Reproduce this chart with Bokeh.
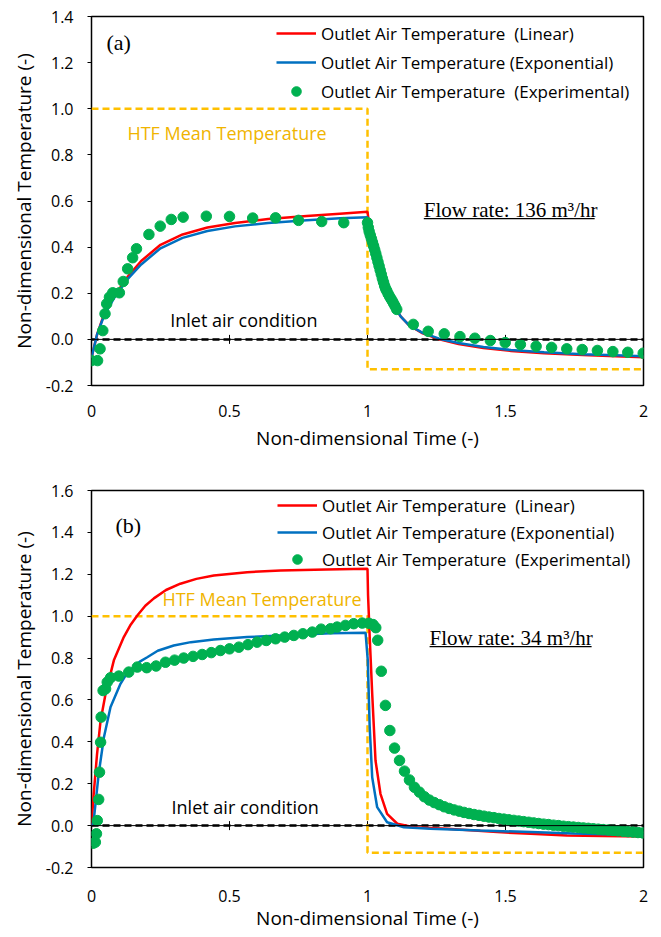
import math
from bokeh.plotting import figure
from bokeh.layouts import column
from bokeh.models import (Range1d, FixedTicker, NumeralTickFormatter, Label,
                          Legend, LegendItem, Span)
from bokeh.embed import file_html
from bokeh.resources import INLINE

# ---------------- shared axis data ----------------
X_TICKS = [0, 0.5, 1, 1.5, 2]
X_TICK_LABELS = {0: "0", 0.5: "0.5", 1: "1", 1.5: "1.5", 2: "2"}
Y_TICKS_A = [-0.2, 0.0, 0.2, 0.4, 0.6, 0.8, 1.0, 1.2, 1.4]
Y_TICKS_B = [-0.2, 0.0, 0.2, 0.4, 0.6, 0.8, 1.0, 1.2, 1.4, 1.6]

HTF_X = [0, 1, 1, 2]
HTF_Y = [1.0, 1.0, -0.13, -0.13]
INLET_X = [0, 2]
INLET_Y = [0, 0]

LEG_LINEAR = "Outlet Air Temperature\u00a0 (Linear)"
LEG_EXPO = "Outlet Air Temperature (Exponential)"
LEG_EXP = "Outlet Air Temperature\u00a0 (Experimental)"

# ---------------- panel (a): 136 m3/hr ----------------
a_lin_x = [0, 0.01, 0.02, 0.04, 0.06, 0.09, 0.13, 0.18, 0.25, 0.33, 0.42, 0.52,
           0.64, 0.78, 0.9, 1.0, 1.01, 1.03, 1.05, 1.08, 1.1, 1.12, 1.15, 1.2,
           1.26, 1.33, 1.42, 1.52, 1.64, 1.78, 1.9, 2.0]
a_lin_y = [-0.08, -0.03, 0.02, 0.09, 0.14, 0.20, 0.27, 0.34, 0.41, 0.455, 0.485,
           0.505, 0.522, 0.535, 0.545, 0.553, 0.46, 0.38, 0.29, 0.19, 0.14, 0.10,
           0.062, 0.026, 0.0, -0.02, -0.037, -0.05, -0.06, -0.068, -0.073, -0.077]
a_exp_x = a_lin_x
a_exp_y = [-0.08, -0.03, 0.02, 0.085, 0.135, 0.195, 0.26, 0.325, 0.395, 0.44,
           0.47, 0.49, 0.505, 0.517, 0.525, 0.53, 0.455, 0.375, 0.29, 0.19, 0.14,
           0.10, 0.062, 0.028, 0.003, -0.016, -0.033, -0.046, -0.056, -0.064,
           -0.069, -0.073]
a_pts_x = [0.0, 0.022, 0.031, 0.041, 0.049, 0.055, 0.065, 0.077, 0.101, 0.115,
           0.131, 0.149, 0.163, 0.208, 0.249, 0.289, 0.332, 0.416, 0.500, 0.584,
           0.667, 0.750, 0.834, 0.914,
           1.000, 1.003, 1.006, 1.010, 1.014, 1.018, 1.022, 1.026, 1.030, 1.034,
           1.038, 1.042, 1.046, 1.050, 1.054, 1.058, 1.062, 1.066, 1.070, 1.075,
           1.080, 1.085, 1.090, 1.095, 1.100, 1.106,
           1.166, 1.220, 1.278, 1.335, 1.389, 1.445, 1.499, 1.554, 1.611, 1.667,
           1.722, 1.778, 1.833, 1.889, 1.943, 1.999]
a_pts_y = [-0.092, -0.092, -0.041, 0.038, 0.111, 0.154, 0.183, 0.202, 0.202,
           0.251, 0.306, 0.354, 0.393, 0.455, 0.491, 0.520, 0.530, 0.534, 0.533,
           0.526, 0.527, 0.516, 0.511, 0.506,
           0.506, 0.485, 0.468, 0.452, 0.437, 0.421, 0.405, 0.389, 0.372, 0.354,
           0.336, 0.318, 0.300, 0.282, 0.264, 0.248, 0.232, 0.219, 0.21, 0.197,
           0.186, 0.176, 0.166, 0.155, 0.144, 0.130,
           0.065, 0.035, 0.024, 0.012, 0.005, -0.005, -0.014, -0.022, -0.030,
           -0.035, -0.041, -0.044, -0.048, -0.053, -0.056, -0.060]

# ---------------- panel (b): 34 m3/hr ----------------
b_lin_x = [0, 0.008, 0.02, 0.033, 0.051, 0.081, 0.117, 0.14, 0.166, 0.195, 0.226,
           0.27, 0.322, 0.38, 0.443, 0.564, 0.685, 0.85, 1.0, 1.002, 1.008, 1.017,
           1.029, 1.047, 1.071, 1.108, 1.168, 1.289, 1.47, 1.591, 1.723, 1.85, 2.0]
b_lin_y = [0.0, 0.152, 0.34, 0.502, 0.63, 0.789, 0.90, 0.955, 1.003, 1.05, 1.085,
           1.125, 1.155, 1.178, 1.194, 1.21, 1.218, 1.223, 1.226, 1.1, 0.90, 0.63,
           0.311, 0.152, 0.056, 0.009, -0.008, -0.015, -0.031, -0.039, -0.047,
           -0.05, -0.052]
b_exp_x = [0, 0.008, 0.026, 0.045, 0.069, 0.105, 0.125, 0.153, 0.175, 0.202,
           0.24, 0.298, 0.36, 0.443, 0.564, 0.685, 0.866, 0.993, 1.001, 1.008,
           1.017, 1.035, 1.071, 1.132, 1.228, 1.409, 1.591, 1.75, 1.9, 2.0]
b_exp_y = [0.0, 0.024, 0.247, 0.422, 0.566, 0.677, 0.72, 0.757, 0.783, 0.804,
           0.835, 0.86, 0.876, 0.889, 0.90, 0.908, 0.918, 0.921, 0.789, 0.47,
           0.231, 0.088, 0.016, -0.008, -0.015, -0.023, -0.031, -0.038, -0.043,
           -0.046]
b_pts_x = [0.006, 0.014, 0.018, 0.021, 0.026, 0.029, 0.033, 0.035, 0.042, 0.051,
           0.057, 0.069, 0.099, 0.135, 0.166, 0.200, 0.234, 0.268, 0.301, 0.334,
           0.368, 0.401, 0.434, 0.467, 0.500, 0.534, 0.567, 0.600, 0.633, 0.667,
           0.700, 0.733, 0.766, 0.800, 0.832, 0.866, 0.890, 0.920, 0.950, 0.981,
           1.005, 1.020, 1.030, 1.037,
           1.050, 1.065, 1.081, 1.098, 1.116, 1.134, 1.152, 1.170, 1.188, 1.206,
           1.224, 1.242, 1.260, 1.278, 1.296, 1.314, 1.332, 1.350, 1.368, 1.386,
           1.404, 1.422, 1.440, 1.458, 1.476, 1.494, 1.512, 1.530, 1.548, 1.566,
           1.584, 1.602, 1.620, 1.638, 1.656, 1.674, 1.692, 1.710, 1.728, 1.746,
           1.764, 1.782, 1.800, 1.818, 1.836, 1.854, 1.872, 1.890, 1.908, 1.926,
           1.944, 1.962, 1.980, 1.998]
b_pts_y = [-0.084, -0.079, -0.039, 0.024, 0.125, 0.255, 0.398, 0.518, 0.645,
           0.653, 0.685, 0.706, 0.714, 0.733, 0.757, 0.754, 0.762, 0.780, 0.790,
           0.800, 0.808, 0.817, 0.826, 0.836, 0.844, 0.852, 0.864, 0.876, 0.884,
           0.892, 0.900, 0.908, 0.916, 0.924, 0.938, 0.940, 0.948, 0.956, 0.964,
           0.967, 0.966, 0.960, 0.945, 0.885,
           0.737, 0.574, 0.454, 0.370, 0.311, 0.260, 0.218, 0.183, 0.160, 0.138,
           0.122, 0.110, 0.100, 0.090, 0.082, 0.075, 0.069, 0.063, 0.058, 0.053,
           0.049, 0.045, 0.041, 0.038, 0.034, 0.031, 0.028, 0.025, 0.022, 0.019,
           0.016, 0.013, 0.010, 0.007, 0.005, 0.002, 0.000, -0.003, -0.005,
           -0.007, -0.009, -0.011, -0.013, -0.015, -0.017, -0.019, -0.021, -0.023,
           -0.025, -0.027, -0.029, -0.031, -0.033, -0.035]

RED = "#FF0000"
BLUE = "#0070C0"
GREEN = "#00B050"
ORANGE = "#FFC000"
ORANGE_TXT = "#F0B400"

SANS = "Open Sans"
SERIF = "Liberation Serif"


def make_panel(height, width, border_left, frame_w, border_top, border_bottom, y_max,
               y_ticks, lin, expo, pts, tag, tag_pos, flow, flow_pos, underline,
               htf_pos, inlet_pos, leg_loc, leg_spacing, tick_standoff, title_standoff):
    p = figure(width=width, height=height, output_backend="svg", toolbar_location=None,
               x_range=Range1d(0, 2), y_range=Range1d(-0.2, y_max),
               min_border_left=border_left, min_border_right=width - border_left - frame_w,
               min_border_top=border_top, min_border_bottom=border_bottom)
    p.xgrid.visible = False
    p.ygrid.visible = False
    p.outline_line_color = "black"
    p.outline_line_width = 1.5
    p.background_fill_color = "white"
    p.border_fill_color = "white"

    # x axis
    xa = p.xaxis[0]
    xa.ticker = FixedTicker(ticks=X_TICKS)
    xa.major_label_overrides = X_TICK_LABELS
    xa.axis_line_color = None
    xa.major_tick_line_color = None
    xa.minor_tick_line_color = None
    xa.major_tick_out = 0
    xa.major_tick_in = 0
    xa.major_label_standoff = tick_standoff
    xa.major_label_text_font = SANS
    xa.major_label_text_font_size = "16px"
    xa.major_label_text_color = "black"
    xa.axis_label = "Non-dimensional Time (-)"
    xa.axis_label_text_font = SANS
    xa.axis_label_text_font_size = "19px"
    xa.axis_label_text_font_style = "normal"
    xa.axis_label_text_color = "black"
    xa.axis_label_standoff = title_standoff

    # y axis
    ya = p.yaxis[0]
    ya.ticker = FixedTicker(ticks=y_ticks)
    ya.formatter = NumeralTickFormatter(format="0.0")
    ya.axis_line_color = None
    ya.minor_tick_line_color = None
    ya.major_tick_line_color = "black"
    ya.major_tick_line_width = 1
    ya.major_tick_out = 4
    ya.major_tick_in = 0
    ya.major_label_standoff = 14
    ya.major_label_text_font = SANS
    ya.major_label_text_font_size = "16px"
    ya.major_label_text_color = "black"
    ya.axis_label = "Non-dimensional Temperature (-)"
    ya.axis_label_text_font = SANS
    ya.axis_label_text_font_size = "19px"
    ya.axis_label_text_font_style = "normal"
    ya.axis_label_text_color = "black"
    ya.axis_label_standoff = 6

    # reference lines
    p.add_layout(Span(location=0, dimension="width", line_color="black", line_width=1))
    p.line(INLET_X, INLET_Y, line_color="black", line_width=2.5, line_dash="7 4")
    p.scatter(X_TICKS[1:], [0] * len(X_TICKS[1:]), marker="dash", angle=math.pi / 2,
              size=9, line_color="black", line_width=1)
    p.line(HTF_X, HTF_Y, line_color=ORANGE, line_width=2.5, line_dash="7 4")

    # series
    r_lin = p.line(lin[0], lin[1], line_color=RED, line_width=2.5)
    r_exp = p.line(expo[0], expo[1], line_color=BLUE, line_width=2.5)
    r_pts = p.scatter(pts[0], pts[1], size=10.5, fill_color=GREEN, line_color=GREEN)

    legend = Legend(items=[LegendItem(label=LEG_LINEAR, renderers=[r_lin]),
                           LegendItem(label=LEG_EXPO, renderers=[r_exp]),
                           LegendItem(label=LEG_EXP, renderers=[r_pts])],
                    location=leg_loc, orientation="vertical",
                    background_fill_alpha=0, border_line_alpha=0,
                    padding=0, margin=0, spacing=leg_spacing,
                    glyph_width=40, glyph_height=24, label_height=24,
                    label_standoff=5,
                    label_text_font=SANS, label_text_font_size="17px",
                    label_text_color="black")
    p.add_layout(legend, "center")

    # annotations
    p.add_layout(Label(x=tag_pos[0], y=tag_pos[1], text=tag, text_font=SERIF,
                       text_font_size="22px", text_color="black",
                       text_align="left", text_baseline="middle"))
    p.add_layout(Label(x=flow_pos[0], y=flow_pos[1], text=flow, text_font=SERIF,
                       text_font_size="21px", text_color="black",
                       text_align="left", text_baseline="middle"))
    p.line(underline[0], underline[1], line_color="black", line_width=1.3)
    p.add_layout(Label(x=htf_pos[0], y=htf_pos[1], text="HTF Mean Temperature",
                       text_font=SANS, text_font_size="18px", text_color=ORANGE_TXT,
                       text_align="left", text_baseline="middle"))
    p.add_layout(Label(x=inlet_pos[0], y=inlet_pos[1], text="Inlet air condition",
                       text_font=SANS, text_font_size="18px", text_color="black",
                       text_align="left", text_baseline="middle"))
    return p


pa = make_panel(height=461, width=653, border_left=88, frame_w=555, border_top=16,
                border_bottom=76, y_max=1.4, y_ticks=Y_TICKS_A,
                lin=(a_lin_x, a_lin_y), expo=(a_exp_x, a_exp_y), pts=(a_pts_x, a_pts_y),
                tag="(a)", tag_pos=(0.054, 1.287),
                flow="Flow rate: 136 m\u00b3/hr", flow_pos=(1.204, 0.562),
                underline=([1.204, 1.823], [0.524, 0.524]),
                htf_pos=(0.13, 0.893), inlet_pos=(0.285, 0.082),
                leg_loc=(185, 282), leg_spacing=5, tick_standoff=19, title_standoff=5)

pb = make_panel(height=476, width=653, border_left=91, frame_w=552, border_top=29,
                border_bottom=70, y_max=1.6, y_ticks=Y_TICKS_B,
                lin=(b_lin_x, b_lin_y), expo=(b_exp_x, b_exp_y), pts=(b_pts_x, b_pts_y),
                tag="(b)", tag_pos=(0.087, 1.433),
                flow="Flow rate: 34 m\u00b3/hr", flow_pos=(1.225, 0.898),
                underline=([1.225, 1.812], [0.855, 0.855]),
                htf_pos=(0.257, 1.08), inlet_pos=(0.29, 0.087),
                leg_loc=(186, 296), leg_spacing=3, tick_standoff=22, title_standoff=0)

layout = column(pa, pb, spacing=0)
open("out.html", "w").write(file_html(layout, INLINE))
